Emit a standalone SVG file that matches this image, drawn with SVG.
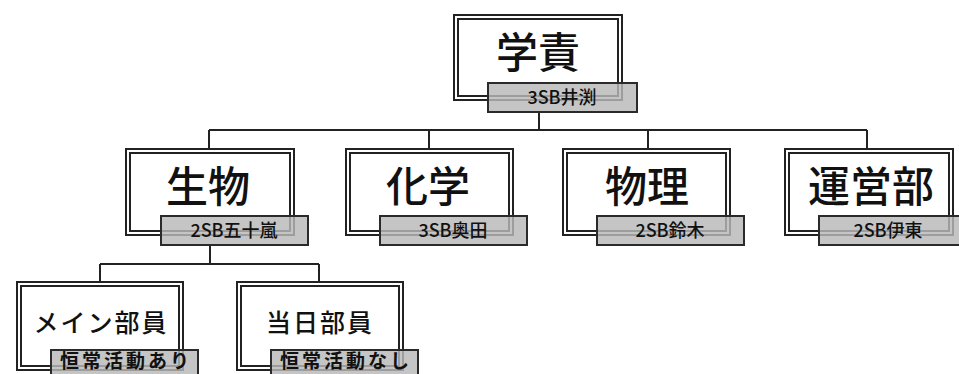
<svg xmlns="http://www.w3.org/2000/svg" width="959" height="374" viewBox="0 0 959 374">
<style>
.o{fill:#fff;stroke:#222;stroke-width:2}
.i{fill:none;stroke:#222;stroke-width:2}
.lb{fill:#b8b8b8;fill-opacity:0.82;stroke:#2a2a2a;stroke-width:2}
.t1{font-family:"Noto Sans CJK JP","Noto Sans CJK SC",sans-serif;font-size:42px;font-weight:500;fill:#111;text-anchor:middle}
.t3{font-family:"Noto Sans CJK JP","Noto Sans CJK SC",sans-serif;font-size:25px;font-weight:500;letter-spacing:2px;fill:#111;text-anchor:middle}
.l1{font-family:"Noto Sans CJK JP","Noto Sans CJK SC",sans-serif;font-size:18px;font-weight:500;fill:#111;text-anchor:middle}
.l3{font-family:"Noto Sans CJK JP","Noto Sans CJK SC",sans-serif;font-size:19px;font-weight:bold;letter-spacing:3px;fill:#111;text-anchor:middle}
.c{fill:none;stroke:#222;stroke-width:2}
</style>
<rect width="959" height="374" fill="#fff"/>
<g id="connectors">
<path class="c" d="M539 112V130M209 130H867M209 130V149M429 130V149M648 130V149M867 130V149"/>
<path class="c" d="M210 245V264M100 264H319M100 264V282M319 264V282"/>
</g>
<g id="gakuseki">
<rect class="o" x="454" y="15" width="168" height="85"/>
<rect class="i" x="458" y="19" width="160" height="77"/>
<text class="t1" x="538" y="68">学責</text>
<rect class="lb" x="488" y="83" width="149" height="29"/>
<text class="l1" x="562" y="104">3SB井渕</text>
</g>
<g id="seibutsu">
<rect class="o" x="126" y="149" width="168" height="86"/>
<rect class="i" x="130" y="153" width="160" height="78"/>
<text class="t1" x="208" y="202">生物</text>
<rect class="lb" x="161" y="216" width="147" height="29"/>
<text class="l1" x="234" y="237">2SB五十嵐</text>
</g>
<g id="kagaku">
<rect class="o" x="346" y="149" width="167" height="86"/>
<rect class="i" x="350" y="153" width="159" height="78"/>
<text class="t1" x="428" y="202">化学</text>
<rect class="lb" x="380" y="216" width="147" height="29"/>
<text class="l1" x="453" y="237">3SB奥田</text>
</g>
<g id="butsuri">
<rect class="o" x="563" y="149" width="167" height="86"/>
<rect class="i" x="567" y="153" width="159" height="78"/>
<text class="t1" x="647" y="202">物理</text>
<rect class="lb" x="597" y="216" width="147" height="29"/>
<text class="l1" x="670" y="237">2SB鈴木</text>
</g>
<g id="uneibu">
<rect class="o" x="785" y="149" width="168" height="86"/>
<rect class="i" x="789" y="153" width="160" height="78"/>
<text class="t1" x="871" y="202">運営部</text>
<rect class="lb" x="819" y="216" width="147" height="29"/>
<text class="l1" x="888" y="237">2SB伊東</text>
</g>
<g id="main">
<rect class="o" x="17" y="282" width="166" height="88"/>
<rect class="i" x="21" y="286" width="158" height="80"/>
<text class="t3" x="101" y="332">メイン部員</text>
<rect class="lb" x="51" y="350" width="147" height="32"/>
<text class="l3" x="126" y="368">恒常活動あり</text>
</g>
<g id="toujitsu">
<rect class="o" x="237" y="282" width="166" height="88"/>
<rect class="i" x="241" y="286" width="158" height="80"/>
<text class="t3" x="320" y="332">当日部員</text>
<rect class="lb" x="271" y="350" width="147" height="32"/>
<text class="l3" x="346" y="368">恒常活動なし</text>
</g>
</svg>
